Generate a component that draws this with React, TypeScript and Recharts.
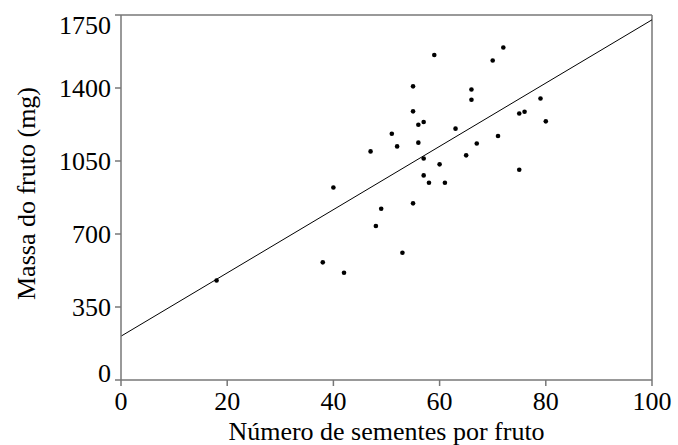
import { ScatterChart, Scatter, XAxis, YAxis, ReferenceLine, Label } from 'recharts'

// seeds per fruit vs fruit mass (mg)
const seeds = [
  18, 38, 42, 48, 49, 53, 55, 40, 47, 51, 52, 57, 58, 61, 60, 57, 65, 56,
  67, 71, 63, 56, 57, 75, 80, 75, 76, 79, 55, 66, 66, 55, 59, 70, 72,
]
const mass = [
  477, 564, 514, 738, 821, 610, 847, 923, 1096, 1181, 1120, 981, 946, 946,
  1034, 1062, 1077, 1138, 1134, 1170, 1205, 1224, 1237, 1008, 1240, 1278,
  1286, 1350, 1288, 1344, 1393, 1408, 1558, 1532, 1594,
]

const xTicks = [0, 20, 40, 60, 80, 100]
const yTicks = [0, 350, 700, 1050, 1400, 1750]

// fitted line end points
const fitX = [0, 100]
const fitY = [210, 1727]

const points = seeds.map((s, i) => ({ seeds: s, mass: mass[i] }))

const FONT = '"Liberation Serif", "Times New Roman", serif'
const AXIS = '#777'

function YTick({ x, y, payload }: any) {
  let dy = 9
  if (payload.value === yTicks[yTicks.length - 1]) dy = 19
  if (payload.value === yTicks[0]) dy = 1.5
  return (
    <text x={x} y={y + dy} textAnchor="end" fontSize={26} fontFamily={FONT} fill="#000">
      {payload.value}
    </text>
  )
}

function Dot({ cx, cy }: any) {
  return <circle cx={cx} cy={cy} r={2.3} fill="#000" />
}

export default function App() {
  return (
    <div style={{ position: 'absolute', left: 0, top: 0, background: '#fff' }}>
      <ScatterChart width={678} height={445} margin={{ top: 15, right: 26, bottom: 0, left: 0 }}>
        <XAxis
          type="number"
          dataKey="seeds"
          domain={[0, 100]}
          ticks={xTicks}
          height={65}
          stroke={AXIS}
          strokeWidth={1.5}
          tickSize={6}
          tickMargin={6}
          tick={{ fontSize: 26, fontFamily: FONT, fill: '#000' }}
        >
          <Label
            content={({ viewBox }: any) => (
              <text
                x={viewBox.x + viewBox.width / 2}
                y={viewBox.y + 60}
                textAnchor="middle"
                fontSize={26}
                fontFamily={FONT}
                fill="#000"
              >
                Número de sementes por fruto
              </text>
            )}
          />
        </XAxis>
        <YAxis
          type="number"
          dataKey="mass"
          domain={[0, 1750]}
          ticks={yTicks}
          width={121}
          stroke={AXIS}
          strokeWidth={1.5}
          tickSize={6}
          tickMargin={4}
          tick={<YTick />}
        >
          <Label
            content={({ viewBox }: any) => {
              const cy = viewBox.y + viewBox.height / 2 - 4
              return (
                <text
                  x={35}
                  y={cy}
                  transform={`rotate(-90 35 ${cy})`}
                  textAnchor="middle"
                  fontSize={26}
                  fontFamily={FONT}
                  fill="#000"
                >
                  Massa do fruto (mg)
                </text>
              )
            }}
          />
        </YAxis>
        <ReferenceLine y={yTicks[yTicks.length - 1]} stroke={AXIS} strokeWidth={1.5} />
        <ReferenceLine x={xTicks[xTicks.length - 1]} stroke={AXIS} strokeWidth={1.5} />
        <ReferenceLine
          segment={[
            { x: fitX[0], y: fitY[0] },
            { x: fitX[1], y: fitY[1] },
          ]}
          stroke="#000"
          strokeWidth={1}
        />
        <Scatter data={points} shape={<Dot />} isAnimationActive={false} />
      </ScatterChart>
    </div>
  )
}
